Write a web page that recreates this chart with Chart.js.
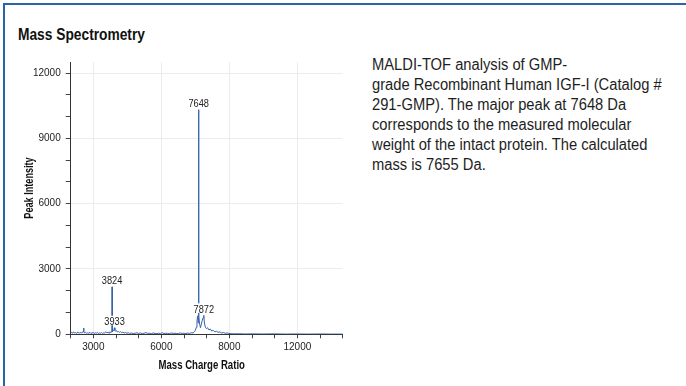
<!DOCTYPE html>
<html>
<head>
<meta charset="utf-8">
<script src="https://cdn.jsdelivr.net/npm/chart.js@4/dist/chart.umd.min.js"></script>
<style>
  html, body { margin: 0; padding: 0; background: #fff; }
  body { width: 686px; height: 386px; position: relative; overflow: hidden; }
  .frame { position: absolute; left: 3px; top: 3px; width: 690px; height: 400px;
           border-top: 2px solid #2a63a6; border-left: 2px solid #2a63a6; }
  .heading { position: absolute; left: 18px; top: 25px; font: bold 16px/20px "Liberation Sans", Arial, sans-serif;
             color: #111; transform: scaleX(0.86); transform-origin: 0 0; white-space: nowrap; }
  .caption { position: absolute; left: 372px; top: 55px; font: 16px/20px "Liberation Sans", Arial, sans-serif;
             color: #1e1e1e; transform: scaleX(0.92); transform-origin: 0 0; white-space: nowrap; }
  #spectrum { position: absolute; left: 20px; top: 55px; }
</style>
</head>
<body>
<div class="frame"></div>
<div class="heading">Mass Spectrometry</div>
<div class="caption">MALDI-TOF analysis of GMP-<br>grade Recombinant Human IGF-I (Catalog #<br>291-GMP). The major peak at 7648 Da<br>corresponds to the measured molecular<br>weight of the intact protein. The calculated<br>mass is 7655 Da.</div>
<canvas id="spectrum" width="330" height="320"></canvas>
<script>
// MALDI-TOF trace: [m/z, intensity]
const spectrum = [
  [2000, 40], [2040, 90], [2090, 50], [2130, 110], [2180, 60], [2220, 80], [2270, 40], [2310, 100],
  [2360, 70], [2400, 50], [2450, 90], [2490, 60], [2530, 80], [2555, 150], [2570, 290], [2585, 120],
  [2620, 60], [2660, 90], [2710, 40], [2750, 70], [2800, 50], [2850, 90], [2890, 40], [2940, 60],
  [2990, 80], [3040, 40], [3080, 70], [3130, 50], [3180, 90], [3220, 40], [3270, 60], [3320, 50],
  [3360, 80], [3410, 40], [3460, 70], [3500, 60], [3550, 110], [3600, 70], [3640, 90], [3690, 60],
  [3730, 120], [3770, 80], [3800, 100], [3812, 160], [3824, 2180], [3836, 200], [3850, 120], [3880, 180],
  [3910, 230], [3933, 300], [3950, 180], [3980, 140], [4020, 170], [4060, 110], [4100, 130], [4150, 90],
  [4200, 120], [4250, 70], [4300, 100], [4360, 60], [4420, 80], [4480, 50], [4540, 70], [4600, 40],
  [4680, 60], [4760, 30], [4840, 50], [4920, 70], [5000, 40], [5080, 60], [5160, 30], [5240, 50],
  [5320, 80], [5400, 40], [5480, 50], [5560, 30], [5640, 60], [5720, 40], [5800, 30], [5880, 50],
  [5960, 40], [6040, 70], [6120, 30], [6200, 50], [6280, 40], [6360, 30], [6440, 60], [6520, 40],
  [6600, 50], [6680, 30], [6760, 40], [6840, 60], [6920, 40], [7000, 50], [7080, 30], [7160, 60],
  [7240, 40], [7320, 70], [7400, 60], [7450, 110], [7500, 180], [7540, 320], [7570, 600], [7605, 850],
  [7625, 520], [7640, 700], [7648, 10320], [7656, 820], [7680, 520], [7724, 300], [7760, 450], [7800, 620],
  [7840, 760], [7872, 870], [7900, 520], [7940, 330], [7990, 260], [8040, 300], [8100, 200], [8160, 240],
  [8220, 150], [8290, 180], [8360, 110], [8430, 140], [8500, 90], [8580, 110], [8660, 60], [8740, 80],
  [8820, 50], [8900, 60], [8980, 40], [9060, 30], [9200, 20], [9400, 25], [9700, 15], [10000, 20],
  [10500, 15], [11000, 20], [11500, 10], [12000, 15], [12500, 10], [13000, 15], [13500, 10], [14000, 10]
];

// annotated peaks (m/z)
const peakLabels = [3824, 3933, 7648, 7872];

// axis tick labels
const xTickValues = [3000, 6000, 9000, 12000];
const xTickLabels = ['3000', '6000', '8000', '12000'];
const yTickValues = [0, 3000, 6000, 9000, 12000];
const yTickLabels = ['0', '3000', '6000', '9000', '12000'];

const xTitle = 'Mass Charge Ratio';
const yTitle = 'Peak Intensity';

const SANS = '"Liberation Sans", Arial, sans-serif';
const faintGrid = '#ececec';
const clear = 'rgba(0,0,0,0)';

// tick marks every 1000 along both axes
function minorTicks(from, to) {
  const out = [];
  for (let v = from; v <= to; v += 1000) out.push({ value: v });
  return out;
}

// condensed text: draw with a horizontal squeeze
function narrowText(ctx, text, x, y, squeeze, knockout) {
  ctx.save();
  ctx.translate(x, y);
  ctx.scale(squeeze, 1);
  if (knockout) {
    const w = ctx.measureText(text).width;
    const fill = ctx.fillStyle;
    ctx.fillStyle = '#fff';
    ctx.fillRect(-w / 2 - 1, -9.5, w + 2, 9.5);
    ctx.fillStyle = fill;
  }
  ctx.fillText(text, 0, 0);
  ctx.restore();
}

const peakAndTitlePlugin = {
  id: 'peakAndTitle',
  afterDatasetsDraw(chart) {
    const ctx = chart.ctx;
    const meta = chart.getDatasetMeta(0);
    const data = chart.data.datasets[0].data;
    ctx.save();
    ctx.fillStyle = '#222';
    ctx.font = '11px ' + SANS;
    ctx.textAlign = 'center';
    ctx.textBaseline = 'alphabetic';
    peakLabels.forEach(mz => {
      const i = data.findIndex(p => p.x === mz);
      if (i < 0) return;
      const el = meta.data[i];
      narrowText(ctx, String(mz), el.x, el.y - 2.5, 0.84, true);
    });
    const area = chart.chartArea;
    ctx.fillStyle = '#111';
    ctx.textBaseline = 'middle';
    ctx.font = 'bold 12px ' + SANS;
    narrowText(ctx, xTitle, area.left + 131, area.bottom + 31, 0.8, false);
    ctx.translate(10, 133);
    ctx.rotate(-Math.PI / 2);
    narrowText(ctx, yTitle, 0, 0, 0.76, false);
    ctx.restore();
  }
};

new Chart(document.getElementById('spectrum'), {
  type: 'line',
  data: {
    datasets: [{
      data: spectrum.map(([x, y]) => ({ x, y })),
      borderColor: '#3862ab',
      borderWidth: 1,
      pointRadius: 0,
      tension: 0,
      fill: false
    }]
  },
  options: {
    responsive: false,
    animation: false,
    devicePixelRatio: 1,
    layout: { padding: { left: 0, top: 7.2, right: 7.3, bottom: 0 } },
    plugins: { legend: { display: false }, tooltip: { enabled: false } },
    scales: {
      x: {
        type: 'linear',
        min: 2000,
        max: 14000,
        border: { color: '#333', width: 1 },
        grid: {
          color: c => (c.tick && xTickValues.includes(c.tick.value)) ? faintGrid : clear,
          tickColor: '#444',
          tickLength: 4
        },
        afterBuildTicks: s => { s.ticks = minorTicks(2000, 14000); },
        ticks: {
          autoSkip: false,
          maxRotation: 0,
          padding: 3,
          color: '#222',
          font: { family: SANS, size: 10 },
          callback: v => { const k = xTickValues.indexOf(v); return k >= 0 ? xTickLabels[k] : ''; }
        },
        afterFit: s => { s.height = 40.7; s.paddingLeft = 0; s.paddingRight = 0; s.paddingTop = 0; s.paddingBottom = 0; }
      },
      y: {
        min: 0,
        max: 12500,
        border: { color: '#333', width: 1 },
        grid: {
          color: c => (c.tick && c.tick.value > 0 && yTickValues.includes(c.tick.value)) ? faintGrid : clear,
          tickColor: '#444',
          tickLength: 5
        },
        afterBuildTicks: s => { s.ticks = minorTicks(0, 12000); },
        ticks: {
          autoSkip: false,
          padding: 5,
          color: '#222',
          font: { family: SANS, size: 10 },
          callback: v => { const k = yTickValues.indexOf(v); return k >= 0 ? yTickLabels[k] : ''; }
        },
        afterFit: s => { s.width = 50.7; s.paddingTop = 0; s.paddingBottom = 0; s.paddingLeft = 0; s.paddingRight = 0; }
      }
    }
  },
  plugins: [peakAndTitlePlugin]
});
</script>
</body>
</html>
